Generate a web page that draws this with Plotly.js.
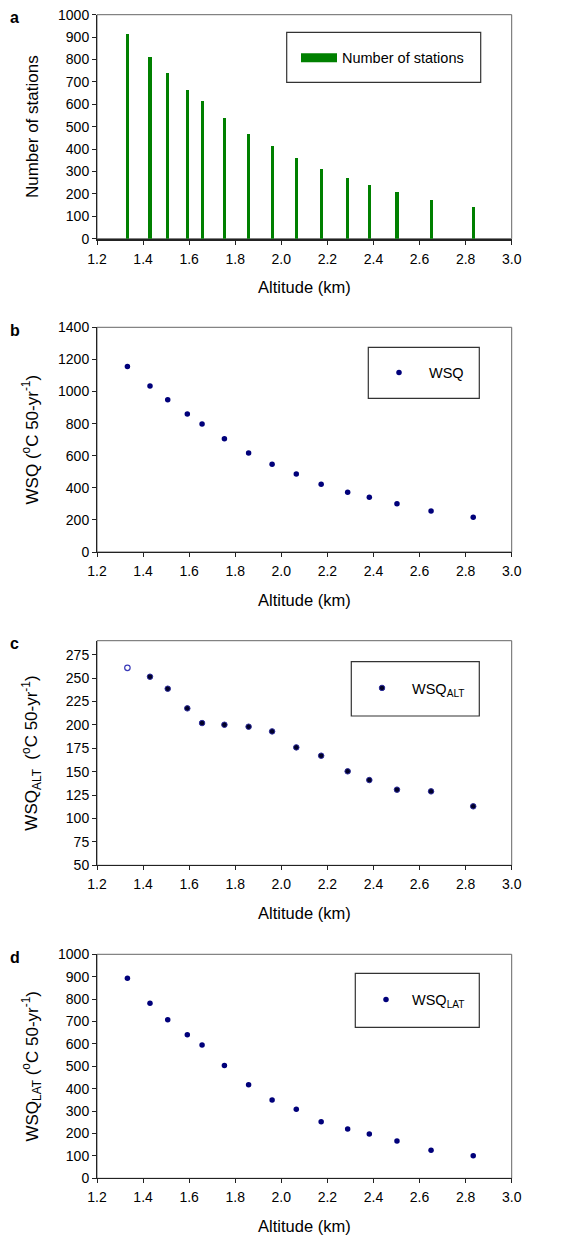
<!DOCTYPE html>
<html><head><meta charset="utf-8">
<script src="https://cdn.plot.ly/plotly-3.0.1.min.js"></script>
<style>html,body{margin:0;padding:0;background:#fff}#chart{width:563px;height:1240px}</style>
</head><body><div id="chart"></div>
<script>
// ---- data ----
const altitude = [1.332, 1.43, 1.507, 1.592, 1.656, 1.753, 1.858, 1.96, 2.065, 2.173, 2.288, 2.382, 2.502, 2.65, 2.833];
const stations = [912, 811, 740, 665, 613, 539, 467, 412, 359, 311, 269, 240, 207, 173, 141];
const wsq      = [1155, 1034, 949, 860, 798, 706, 617, 546, 486, 422, 372, 341, 301, 256, 216];
const wsqAlt   = [261, 251.5, 238.7, 217.7, 202, 200.2, 198.1, 193.1, 176, 167.1, 150.4, 141.1, 130.8, 129, 113];
const wsqLat   = [893, 781, 708, 641, 595, 504, 418, 350, 308, 253, 220, 198, 167, 125, 101];
const openPoints = [0]; // index of hollow point in panel c
const panelLetters = ['a', 'b', 'c', 'd'];
const xTitle = 'Altitude (km)';
const yTitles = [
  'Number of stations',
  'WSQ (<sup>o</sup>C 50-yr<sup>-1</sup>)',
  'WSQ<sub>ALT</sub>  (<sup>o</sup>C 50-yr<sup>-1</sup>)',
  'WSQ<sub>LAT</sub> (<sup>o</sup>C 50-yr<sup>-1</sup>)'
];
const legendNames = ['Number of stations', 'WSQ', 'WSQ<sub>ALT</sub>', 'WSQ<sub>LAT</sub>'];

// ---- layout helpers ----
const W = 563, H = 1240;
const PX = p => p / W;
const PY = p => 1 - p / H;
const plotX = [97, 511.7];
const panels = [[14.7, 238.7], [327.3, 552], [640.7, 865.3], [954.3, 1178.3]];
const yRanges = [[0, 1000], [0, 1400], [50, 290], [0, 1000]];
const yDticks = [100, 200, 25, 100];
const yTitleStandoff = [15, 15, 23, 15];
const FONT = 'Liberation Sans, Arial, sans-serif';

const ptsOpenX = altitude.filter((_, i) => openPoints.includes(i));
const ptsOpenY = wsqAlt.filter((_, i) => openPoints.includes(i));
const ptsFillX = altitude.filter((_, i) => !openPoints.includes(i));
const ptsFillY = wsqAlt.filter((_, i) => !openPoints.includes(i));

const traces = [
  {type: 'bar', x: altitude, y: stations, width: 0.0135, marker: {color: '#008000', line: {width: 0}},
   xaxis: 'x', yaxis: 'y', showlegend: false, hoverinfo: 'skip'},
  {type: 'scatter', x: [null], y: [null], mode: 'lines', line: {color: '#008000', width: 9},
   name: legendNames[0], xaxis: 'x', yaxis: 'y', legend: 'legend'},
  {type: 'scatter', mode: 'markers', x: altitude, y: wsq, name: legendNames[1],
   marker: {color: '#00007a', size: 5.5, line: {width: 0}}, xaxis: 'x2', yaxis: 'y2', legend: 'legend2'},
  {type: 'scatter', mode: 'markers', x: ptsFillX, y: ptsFillY, name: legendNames[2],
   marker: {color: '#000028', size: 5.5, line: {width: 1, color: '#2a2a9a'}}, xaxis: 'x3', yaxis: 'y3', legend: 'legend3'},
  {type: 'scatter', mode: 'markers', x: ptsOpenX, y: ptsOpenY, showlegend: false,
   marker: {color: '#ffffff', size: 5.5, line: {width: 1.2, color: '#3a3ab8'}}, xaxis: 'x3', yaxis: 'y3'},
  {type: 'scatter', mode: 'markers', x: altitude, y: wsqLat, name: legendNames[3],
   marker: {color: '#00007a', size: 5.5, line: {width: 0}}, xaxis: 'x4', yaxis: 'y4', legend: 'legend4'}
];

const layout = {
  width: W, height: H, autosize: false,
  margin: {l: 0, r: 0, t: 0, b: 0},
  paper_bgcolor: '#fff', plot_bgcolor: '#fff',
  font: {family: FONT, color: '#000', size: 14},
  bargap: 0,
  shapes: [], annotations: []
};

panels.forEach((p, i) => {
  const s = i === 0 ? '' : String(i + 1);
  layout['xaxis' + s] = {
    domain: [PX(plotX[0]), PX(plotX[1])], anchor: 'y' + s,
    range: [1.2, 3.0], tick0: 1.2, dtick: 0.2, tickformat: '.1f',
    ticks: 'outside', ticklen: 4, tickcolor: '#222', tickwidth: 1, ticklabelstandoff: 2,
    showline: true, linecolor: '#222', linewidth: i === 0 ? 2 : 1, mirror: false,
    showgrid: false, zeroline: false, fixedrange: true,
    tickfont: {size: 14, family: FONT},
    title: {text: xTitle, font: {size: 16.5, family: FONT}, standoff: 16}
  };
  layout['yaxis' + s] = {
    domain: [PY(p[1]), PY(p[0])], anchor: 'x' + s,
    range: yRanges[i], tick0: yRanges[i][0], dtick: yDticks[i],
    ticks: 'outside', ticklen: 4, tickcolor: '#222', tickwidth: 1,
    showline: true, linecolor: '#222', linewidth: 1, mirror: false,
    showgrid: false, zeroline: false, fixedrange: true,
    tickfont: {size: 14, family: FONT},
    title: {text: yTitles[i], font: {size: 17, family: FONT}, standoff: yTitleStandoff[i]}
  };
  // top/right frame
  layout.shapes.push({type: 'rect', xref: 'x' + s + ' domain', yref: 'y' + s + ' domain',
    x0: 0, x1: 1, y0: 0, y1: 1, line: {color: '#666', width: 1}, layer: 'below'});
  // panel letter
  layout.annotations.push({xref: 'paper', yref: 'paper', x: PX(15), y: PY(p[0] + 3), text: '<b>' + panelLetters[i] + '</b>',
    showarrow: false, font: {size: 16, family: FONT}, xanchor: 'center', yanchor: 'middle'});
});

// legend frames
const legendBoxes = [[286.7, 32.3, 480.7, 82.3], [368.3, 347.3, 479.3, 398.3], [351.3, 661.7, 479.3, 716], [355.3, 973.3, 479.3, 1027.3]];
legendBoxes.forEach(b => layout.shapes.push({type: 'rect', xref: 'paper', yref: 'paper',
  x0: PX(b[0]), x1: PX(b[2]), y0: PY(b[3]), y1: PY(b[1]), line: {color: '#333', width: 1.2}}));

const legendBase = {bgcolor: 'rgba(0,0,0,0)', borderwidth: 0, font: {size: 14.5, family: FONT}, xanchor: 'left', yanchor: 'middle'};
layout.legend  = Object.assign({}, legendBase, {x: PX(296), y: PY(57.7), itemwidth: 36});
layout.legend2 = Object.assign({}, legendBase, {x: PX(369), y: PY(372.5), itemwidth: 50});
layout.legend3 = Object.assign({}, legendBase, {x: PX(352), y: PY(688), itemwidth: 50});
layout.legend4 = Object.assign({}, legendBase, {x: PX(360), y: PY(999.5), itemwidth: 42});

Plotly.newPlot('chart', traces, layout, {staticPlot: true, displayModeBar: false});
</script>
</body></html>
